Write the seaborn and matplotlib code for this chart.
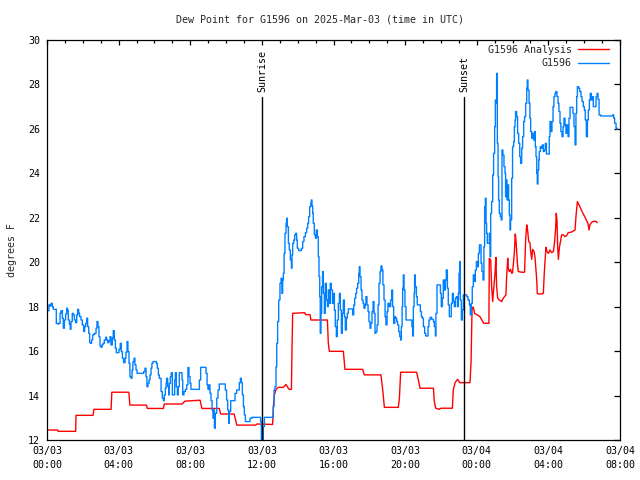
import matplotlib
matplotlib.use("Agg")
import matplotlib.pyplot as plt
import matplotlib.dates as mdates
import pandas as pd
import seaborn as sns

# ---------------- data ----------------
title = "Dew Point for G1596 on 2025-Mar-03 (time in UTC)"
ylabel = "degrees F"
start_time = "2025-03-03 00:00"
span_hours = 32
y_limits = [12, 30]
y_ticks = [12, 14, 16, 18, 20, 22, 24, 26, 28, 30]

sun_labels = ["Sunrise", "Sunset"]
sun_hours = [12.0, 23.29]
sun_line_top = 27.43

analysis_label = "G1596 Analysis"
analysis_hours = [
    0.06, 0.60, 0.62, 1.60, 1.62, 2.57, 2.62, 3.58, 3.62, 4.57,
    4.63, 5.55, 5.60, 6.50, 6.55, 7.55, 7.70, 8.55, 8.65, 9.62,
    9.70, 10.45, 10.60, 11.65, 11.72, 12.60, 12.64, 12.70, 12.79, 12.92,
    13.20, 13.35, 13.42, 13.52, 13.65, 13.68, 13.72, 14.39, 14.45, 14.69,
    14.74, 15.66, 15.71, 15.77, 16.55, 16.64, 17.63, 17.72, 18.65, 18.75,
    18.84, 19.62, 19.68, 19.75, 20.64, 20.74, 20.83, 21.58, 21.63, 21.71,
    21.91, 22.00, 22.64, 22.69, 22.79, 22.93, 23.06, 23.62, 23.68, 23.74,
    23.81, 23.88, 24.00, 24.18, 24.33, 24.40, 24.68, 24.70, 24.78, 24.83,
    24.89, 24.94, 25.02, 25.07, 25.11, 25.17, 25.26, 25.39, 25.48, 25.63,
    25.67, 25.73, 25.76, 25.82, 25.89, 25.95, 26.00, 26.10, 26.15, 26.19,
    26.27, 26.32, 26.51, 26.67, 26.73, 26.79, 26.84, 26.90, 26.97, 27.01,
    27.07, 27.12, 27.20, 27.25, 27.31, 27.35, 27.38, 27.44, 27.59, 27.72,
    27.77, 27.83, 27.87, 27.92, 28.00, 28.09, 28.18, 28.28, 28.35, 28.41,
    28.44, 28.48, 28.52, 28.56, 28.61, 28.69, 28.74, 28.84, 28.93, 29.02,
    29.11, 29.30, 29.49, 29.54, 29.62, 29.71, 29.80, 29.91, 30.03, 30.14,
    30.21, 30.27, 30.32, 30.42, 30.51, 30.66, 30.73,
]
analysis_values = [
    12.45, 12.45, 12.39, 12.39, 13.11, 13.11, 13.38, 13.38, 14.15, 14.15,
    13.57, 13.57, 13.42, 13.42, 13.62, 13.62, 13.75, 13.79, 13.42, 13.42,
    13.17, 13.17, 12.67, 12.67, 12.72, 12.70, 13.50, 14.03, 14.28, 14.37,
    14.37, 14.50, 14.40, 14.28, 14.28, 16.00, 17.70, 17.73, 17.64, 17.64,
    17.40, 17.40, 16.35, 15.99, 15.99, 15.18, 15.18, 14.93, 14.93, 14.25,
    13.47, 13.47, 13.88, 15.05, 15.05, 14.70, 14.33, 14.33, 13.73, 13.43,
    13.38, 13.43, 13.43, 14.25, 14.58, 14.73, 14.58, 14.58, 15.45, 17.97,
    17.97, 17.70, 17.64, 17.55, 17.33, 17.25, 17.25, 20.18, 20.10, 18.90,
    18.23, 18.75, 19.50, 20.22, 18.90, 18.38, 18.30, 18.23, 18.38, 18.53,
    19.35, 20.18, 19.73, 19.58, 19.68, 19.50, 19.53, 20.43, 21.27, 21.00,
    19.95, 19.58, 19.55, 19.55, 21.00, 21.68, 21.45, 20.93, 20.88, 20.48,
    20.13, 20.58, 20.48, 20.25, 19.65, 19.20, 18.60, 18.57, 18.57, 18.60,
    19.50, 20.25, 20.67, 20.48, 20.40, 20.55, 20.43, 20.48, 20.93, 21.60,
    22.20, 21.90, 20.70, 20.13, 20.63, 21.00, 21.23, 21.23, 21.15, 21.20,
    21.33, 21.36, 21.45, 22.05, 22.73, 22.58, 22.43, 22.23, 22.05, 21.87,
    21.75, 21.45, 21.68, 21.80, 21.84, 21.84, 21.78,
]

station_label = "G1596"
station_hours = [
    0.04, 0.11, 0.17, 0.22, 0.30, 0.35, 0.48, 0.52, 0.60, 0.67,
    0.73, 0.78, 0.86, 0.91, 0.97, 1.04, 1.10, 1.15, 1.19, 1.25,
    1.30, 1.34, 1.41, 1.47, 1.53, 1.60, 1.66, 1.71, 1.77, 1.82,
    1.90, 1.97, 2.05, 2.10, 2.16, 2.22, 2.27, 2.33, 2.38, 2.44,
    2.49, 2.55, 2.62, 2.68, 2.74, 2.79, 2.85, 2.90, 2.96, 3.02,
    3.07, 3.13, 3.20, 3.28, 3.33, 3.39, 3.46, 3.52, 3.57, 3.65,
    3.70, 3.76, 3.82, 3.87, 3.95, 4.02, 4.09, 4.15, 4.21, 4.28,
    4.36, 4.41, 4.47, 4.52, 4.58, 4.63, 4.69, 4.75, 4.80, 4.86,
    4.91, 4.97, 5.03, 5.19, 5.32, 5.40, 5.47, 5.53, 5.58, 5.64,
    5.70, 5.75, 5.81, 5.86, 5.92, 6.03, 6.11, 6.16, 6.22, 6.27,
    6.37, 6.44, 6.50, 6.55, 6.61, 6.65, 6.68, 6.74, 6.80, 6.83,
    6.89, 6.94, 7.00, 7.07, 7.13, 7.17, 7.22, 7.28, 7.33, 7.39,
    7.48, 7.54, 7.58, 7.65, 7.73, 7.80, 7.87, 7.93, 7.99, 8.04,
    8.17, 8.45, 8.51, 8.58, 8.82, 8.88, 8.94, 8.99, 9.05, 9.10,
    9.16, 9.22, 9.27, 9.31, 9.35, 9.40, 9.48, 9.55, 9.62, 9.70,
    9.88, 9.96, 10.03, 10.09, 10.15, 10.18, 10.26, 10.44, 10.50, 10.59,
    10.69, 10.74, 10.80, 10.85, 10.91, 10.97, 11.02, 11.08, 11.24, 11.34,
    11.45, 11.90, 11.93, 11.97, 12.03, 12.08, 12.14, 12.45, 12.64, 12.68,
    12.73, 12.79, 12.83, 12.88, 12.94, 13.01, 13.07, 13.12, 13.16, 13.20,
    13.24, 13.29, 13.35, 13.38, 13.42, 13.48, 13.53, 13.59, 13.65, 13.68,
    13.72, 13.78, 13.83, 13.89, 13.94, 13.98, 14.05, 14.17, 14.22, 14.28,
    14.35, 14.43, 14.50, 14.56, 14.61, 14.67, 14.73, 14.76, 14.80, 14.84,
    14.87, 14.93, 14.99, 15.04, 15.10, 15.15, 15.19, 15.23, 15.26, 15.30,
    15.34, 15.39, 15.43, 15.49, 15.54, 15.60, 15.66, 15.71, 15.77, 15.82,
    15.88, 15.94, 15.99, 16.05, 16.10, 16.16, 16.21, 16.27, 16.33, 16.38,
    16.44, 16.49, 16.55, 16.61, 16.66, 16.72, 16.77, 16.83, 17.01, 17.07,
    17.13, 17.18, 17.24, 17.29, 17.35, 17.41, 17.44, 17.48, 17.54, 17.59,
    17.65, 17.70, 17.76, 17.81, 17.87, 17.93, 17.98, 18.04, 18.09, 18.15,
    18.21, 18.26, 18.32, 18.37, 18.43, 18.49, 18.54, 18.60, 18.65, 18.71,
    18.76, 18.82, 18.88, 18.93, 18.99, 19.04, 19.12, 19.19, 19.25, 19.30,
    19.36, 19.42, 19.47, 19.53, 19.58, 19.64, 19.70, 19.75, 19.79, 19.83,
    19.86, 19.90, 19.94, 19.99, 20.05, 20.35, 20.38, 20.42, 20.46, 20.50,
    20.53, 20.57, 20.63, 20.68, 20.79, 20.85, 20.91, 20.96, 21.02, 21.09,
    21.15, 21.22, 21.28, 21.33, 21.39, 21.48, 21.58, 21.63, 21.69, 21.72,
    21.78, 21.91, 21.97, 22.02, 22.08, 22.13, 22.19, 22.25, 22.30, 22.36,
    22.41, 22.47, 22.54, 22.58, 22.64, 22.69, 22.75, 22.80, 22.86, 22.92,
    22.97, 23.01, 23.05, 23.08, 23.14, 23.20, 23.25, 23.34, 23.44, 23.51,
    23.59, 23.64, 23.70, 23.75, 23.81, 23.87, 23.92, 23.98, 24.03, 24.09,
    24.15, 24.24, 24.29, 24.35, 24.40, 24.44, 24.48, 24.52, 24.55, 24.59,
    24.65, 24.70, 24.74, 24.78, 24.83, 24.89, 24.94, 25.00, 25.04, 25.07,
    25.11, 25.15, 25.19, 25.22, 25.26, 25.32, 25.37, 25.41, 25.46, 25.52,
    25.58, 25.61, 25.65, 25.69, 25.73, 25.78, 25.82, 25.86, 25.89, 25.95,
    26.00, 26.06, 26.10, 26.14, 26.17, 26.23, 26.28, 26.34, 26.40, 26.45,
    26.51, 26.56, 26.62, 26.67, 26.73, 26.79, 26.82, 26.86, 26.92, 26.97,
    27.01, 27.07, 27.12, 27.18, 27.23, 27.27, 27.31, 27.35, 27.38, 27.42,
    27.46, 27.49, 27.55, 27.61, 27.66, 27.72, 27.77, 27.83, 27.89, 28.00,
    28.05, 28.09, 28.15, 28.20, 28.26, 28.31, 28.37, 28.42, 28.48, 28.54,
    28.59, 28.65, 28.70, 28.76, 28.82, 28.87, 28.93, 28.98, 29.04, 29.10,
    29.15, 29.21, 29.30, 29.37, 29.43, 29.49, 29.54, 29.58, 29.62, 29.69,
    29.75, 29.82, 29.88, 29.95, 30.01, 30.06, 30.12, 30.18, 30.23, 30.29,
    30.34, 30.40, 30.45, 30.51, 30.58, 30.66, 30.72, 30.77, 30.83, 30.92,
    31.59, 31.65, 31.70, 31.78, 31.85,
]
station_values = [
    17.82, 18.08, 18.03, 18.15, 18.00, 17.88, 17.88, 17.25, 17.22, 17.25,
    17.70, 17.82, 17.48, 17.03, 17.40, 17.67, 17.93, 17.82, 17.40, 17.22,
    16.98, 17.33, 17.70, 17.63, 17.40, 17.28, 17.63, 17.88, 17.70, 17.55,
    17.40, 17.18, 16.88, 17.10, 17.25, 17.48, 17.10, 16.80, 16.38, 16.35,
    16.50, 16.73, 16.77, 16.80, 17.03, 17.33, 17.10, 16.65, 16.23, 16.17,
    16.28, 16.35, 16.50, 16.62, 16.50, 16.38, 16.47, 16.65, 16.28, 16.58,
    16.92, 16.50, 16.13, 15.93, 15.93, 16.08, 16.35, 15.98, 15.68, 15.48,
    15.68, 15.95, 16.43, 15.98, 15.45, 14.85, 14.78, 15.15, 15.53, 15.68,
    15.38, 15.15, 15.00, 15.00, 15.00, 15.08, 15.23, 14.85, 14.40, 14.55,
    14.70, 14.93, 15.23, 15.45, 15.53, 15.53, 15.45, 15.23, 14.93, 14.78,
    14.18, 13.88, 13.77, 14.03, 14.33, 14.55, 14.78, 14.40, 14.03, 14.55,
    14.85, 15.03, 14.03, 14.03, 14.70, 15.03, 14.40, 14.03, 14.40, 15.03,
    15.03, 14.70, 14.03, 14.18, 14.28, 14.48, 15.26, 14.85, 14.55, 14.28,
    14.28, 14.28, 14.70, 15.27, 15.27, 15.00, 14.48, 14.28, 14.48, 14.10,
    13.77, 13.35, 12.98, 13.35, 12.53, 13.20, 13.88, 14.25, 14.52, 14.52,
    14.52, 14.25, 13.80, 13.35, 12.75, 13.28, 13.77, 13.77, 14.10, 14.25,
    14.25, 14.58, 14.78, 14.58, 14.03, 13.50, 13.13, 12.83, 12.83, 12.98,
    13.02, 13.02, 12.83, 12.00, 12.00, 12.60, 13.02, 13.02, 13.50, 14.25,
    14.40, 15.30, 16.35, 17.33, 18.30, 19.05, 19.28, 18.60, 19.20, 19.50,
    20.40, 21.30, 21.75, 21.98, 21.60, 20.85, 20.55, 20.10, 19.73, 20.33,
    20.85, 21.00, 21.23, 21.30, 21.00, 20.63, 20.52, 20.55, 20.63, 20.93,
    21.15, 21.33, 21.53, 21.75, 22.05, 22.50, 22.65, 22.80, 22.53, 22.20,
    21.75, 21.23, 21.08, 21.45, 21.15, 20.25, 19.35, 18.45, 16.80, 17.70,
    18.90, 19.58, 18.60, 17.70, 19.05, 18.30, 18.00, 18.75, 18.15, 19.05,
    18.75, 18.15, 18.60, 17.85, 17.10, 16.65, 17.40, 18.15, 18.60, 17.85,
    16.80, 17.70, 18.30, 17.55, 16.95, 17.48, 17.70, 17.90, 17.90, 17.63,
    18.08, 18.38, 18.60, 18.83, 19.05, 19.50, 19.80, 19.35, 18.75, 18.30,
    18.15, 17.93, 18.08, 18.45, 18.08, 17.78, 17.33, 17.03, 17.25, 17.78,
    18.23, 17.70, 16.80, 16.88, 17.18, 18.08, 19.05, 19.58, 19.83, 19.65,
    18.98, 18.30, 17.55, 17.18, 17.78, 18.15, 18.00, 18.30, 18.75, 18.00,
    17.25, 17.55, 17.48, 17.33, 17.18, 16.88, 16.65, 16.50, 17.10, 18.00,
    18.83, 19.43, 18.75, 18.00, 17.40, 17.40, 17.10, 16.68, 18.00, 18.60,
    19.43, 18.90, 18.45, 18.08, 18.08, 17.78, 17.55, 17.48, 17.10, 16.80,
    16.68, 16.68, 17.10, 17.40, 17.52, 17.43, 17.33, 17.10, 16.68, 17.70,
    18.98, 18.98, 18.60, 18.00, 18.38, 19.20, 18.75, 19.20, 19.65, 18.83,
    18.08, 17.55, 17.55, 18.15, 18.60, 18.23, 18.00, 18.38, 18.45, 18.00,
    18.60, 19.50, 20.03, 18.30, 17.40, 17.85, 18.53, 18.53, 18.45, 18.30,
    18.08, 17.63, 18.15, 18.90, 19.43, 19.13, 19.65, 20.03, 19.80, 20.40,
    20.78, 19.95, 19.58, 19.20, 20.70, 22.50, 22.88, 21.75, 21.30, 20.85,
    20.85, 21.30, 20.25, 22.20, 22.73, 23.93, 24.90, 26.10, 27.30, 27.15,
    28.50, 25.35, 23.85, 22.80, 22.20, 22.05, 21.90, 25.05, 24.83, 24.30,
    24.00, 22.95, 23.70, 22.80, 23.48, 22.80, 22.13, 21.45, 21.90, 23.78,
    25.20, 25.43, 26.10, 26.40, 26.78, 26.55, 25.80, 25.35, 24.75, 24.45,
    25.13, 25.65, 26.33, 26.55, 27.15, 27.83, 28.20, 27.75, 27.15, 26.48,
    25.88, 25.58, 25.80, 25.50, 25.88, 25.20, 24.75, 24.00, 23.52, 24.15,
    24.60, 24.98, 25.20, 25.13, 25.28, 24.98, 25.05, 25.35, 24.87, 24.87,
    25.65, 26.33, 25.88, 26.33, 27.00, 27.45, 27.60, 27.68, 27.45, 27.15,
    26.78, 26.25, 25.88, 25.65, 26.10, 26.48, 26.18, 25.80, 26.18, 25.65,
    26.48, 26.97, 26.97, 26.70, 26.10, 25.28, 26.70, 27.45, 27.90, 27.83,
    27.68, 27.45, 27.23, 27.00, 26.85, 26.40, 25.65, 26.40, 26.85, 27.30,
    27.60, 27.30, 27.45, 27.00, 27.00, 27.45, 27.60, 27.33, 26.63, 26.58,
    26.63, 26.48, 26.25, 26.03, 25.98,
]

# ---------------- plot ----------------
sns.set_theme(style="white")
plt.rcParams["font.family"] = ["DejaVu Sans Mono", "DejaVu Sans"]
plt.rcParams["axes.edgecolor"] = "black"
plt.rcParams["axes.linewidth"] = 0.9

FS = 7.2

base = pd.Timestamp(start_time)
def to_time(hours):
    return base + pd.to_timedelta(hours, unit="h")

df_a = pd.DataFrame({"time": to_time(analysis_hours), "value": analysis_values})
df_s = pd.DataFrame({"time": to_time(station_hours), "value": station_values})

fig = plt.figure(figsize=(6.4, 4.8), dpi=100)
ax = fig.add_axes([47 / 640, 40 / 480, 573 / 640, 400 / 480])

sns.lineplot(data=df_a, x="time", y="value", ax=ax, color="#ff0000", lw=1.0,
             label=analysis_label, estimator=None, sort=False)
sns.lineplot(data=df_s, x="time", y="value", ax=ax, color="#0080ff", lw=1.0,
             label=station_label, estimator=None, sort=False,
             drawstyle="steps-post")

for lbl, h in zip(sun_labels, sun_hours):
    t = to_time(h)
    ax.plot([t, t], [y_limits[0], sun_line_top], color="black", lw=1.0)
    ax.text(t, sun_line_top + 0.25, lbl, rotation=90, ha="center", va="bottom",
            fontsize=FS, color="black")

ax.set_xlim(base, to_time(span_hours))
ax.set_ylim(*y_limits)
ax.set_yticks(y_ticks)
ax.xaxis.set_major_locator(mdates.HourLocator(byhour=range(0, 24, 4)))
ax.xaxis.set_minor_locator(mdates.HourLocator())
ax.xaxis.set_major_formatter(mdates.DateFormatter("%m/%d\n%H:%M"))
ax.tick_params(axis="both", which="both", direction="in", top=True, right=True,
               colors="black", labelsize=FS, width=0.9)
ax.tick_params(axis="x", which="major", length=3.5, pad=4.5)
ax.tick_params(axis="x", which="minor", length=2)
ax.tick_params(axis="y", which="major", length=4.5, pad=5)
for lab in ax.get_xticklabels():
    lab.set_linespacing(1.5)
ax.set_xlabel("")
ax.set_ylabel("")
ax.grid(False)

fig.text(0.5, 1 - 19 / 480, title, ha="center", va="center", fontsize=FS)
fig.text(12 / 640, 1 - 250 / 480, ylabel, rotation=90, ha="center", va="center", fontsize=FS)

ax.legend(loc="upper right", bbox_to_anchor=(1 - 6 / 573, 1), frameon=False,
          markerfirst=False, fontsize=FS,
          handlelength=3.1, handletextpad=0.6, labelspacing=0.35,
          borderaxespad=0.3, borderpad=0.2)

fig.savefig("out.png", dpi=100)
